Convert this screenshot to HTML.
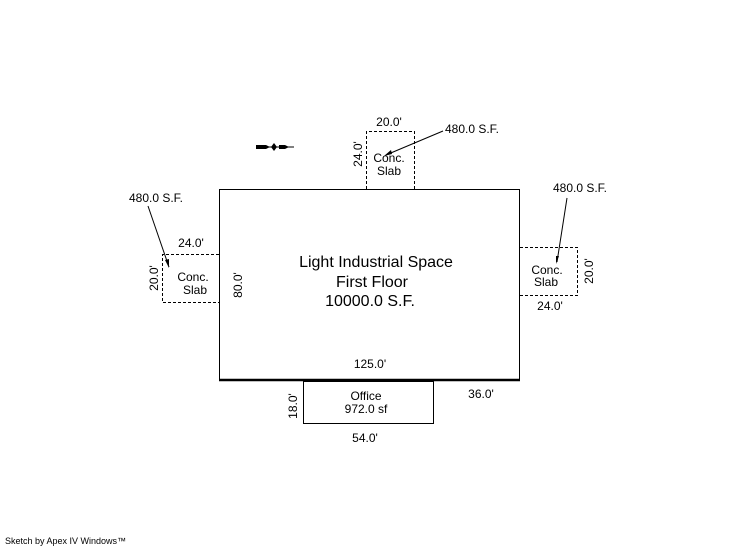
<!DOCTYPE html>
<html><head><style>
html,body{margin:0;padding:0;background:#fff;}
svg{display:block;}
text{font-family:"Liberation Sans",sans-serif;fill:#000;}
</style></head><body>
<svg width="746" height="547" viewBox="0 0 746 547" xmlns="http://www.w3.org/2000/svg">
<g fill="none" stroke="#000" stroke-width="1">
<rect x="219.5" y="189.5" width="300" height="190"/>
<line x1="219" y1="380" x2="520" y2="380" stroke-width="2.5"/>
<rect x="303.5" y="381.5" width="130" height="42"/>
<g stroke-dasharray="3,2">
<path d="M366.5 189 V131.5 H414.5 V189"/>
<path d="M219 254.5 H162.5 V302.5 H219"/>
<path d="M520 247.5 H577.5 V295.5 H520"/>
</g>
<line x1="443" y1="131" x2="386" y2="155"/>
<line x1="148" y1="206" x2="169" y2="267"/>
<line x1="567" y1="198" x2="557" y2="262"/>
<line x1="256" y1="147" x2="294" y2="147"/>
</g>
<g fill="#000">
<polygon points="384,156 391,150 392,154"/>
<polygon points="169,268 165,260 169,259"/>
<polygon points="556,264 556,256 559,256"/>
<polygon points="256,145 266,145 270,147 266,149 256,149"/>
<polygon points="271,147 274,143 277,147 274,151"/>
<polygon points="279,145 285,145 289,147 285,149 279,149"/>
</g>
<g font-size="12" text-anchor="middle">
<text x="389" y="126">20.0'</text>
<text x="472" y="133">480.0 S.F.</text>
<text x="389" y="162">Conc.</text>
<text x="389" y="175">Slab</text>
<text x="156" y="202">480.0 S.F.</text>
<text x="580" y="192">480.0 S.F.</text>
<text x="191" y="247">24.0'</text>
<text x="193" y="281">Conc.</text>
<text x="195" y="294">Slab</text>
<text x="547" y="274">Conc.</text>
<text x="546" y="286">Slab</text>
<text x="550" y="310">24.0'</text>
<text x="370" y="368">125.0'</text>
<text x="481" y="398">36.0'</text>
<text x="366" y="400">Office</text>
<text x="366" y="413">972.0 sf</text>
<text x="365" y="442">54.0'</text>
<text x="376" y="267" font-size="16">Light Industrial Space</text>
<text x="372" y="287" font-size="16">First Floor</text>
<text x="370" y="306" font-size="16">10000.0 S.F.</text>
<text transform="translate(362,154) rotate(-90)">24.0'</text>
<text transform="translate(158,278) rotate(-90)">20.0'</text>
<text transform="translate(242,285) rotate(-90)">80.0'</text>
<text transform="translate(593,271) rotate(-90)">20.0'</text>
<text transform="translate(297,406) rotate(-90)">18.0'</text>
</g>
<text x="5" y="544" font-size="9">Sketch by Apex IV Windows™</text>
</svg>
</body></html>
